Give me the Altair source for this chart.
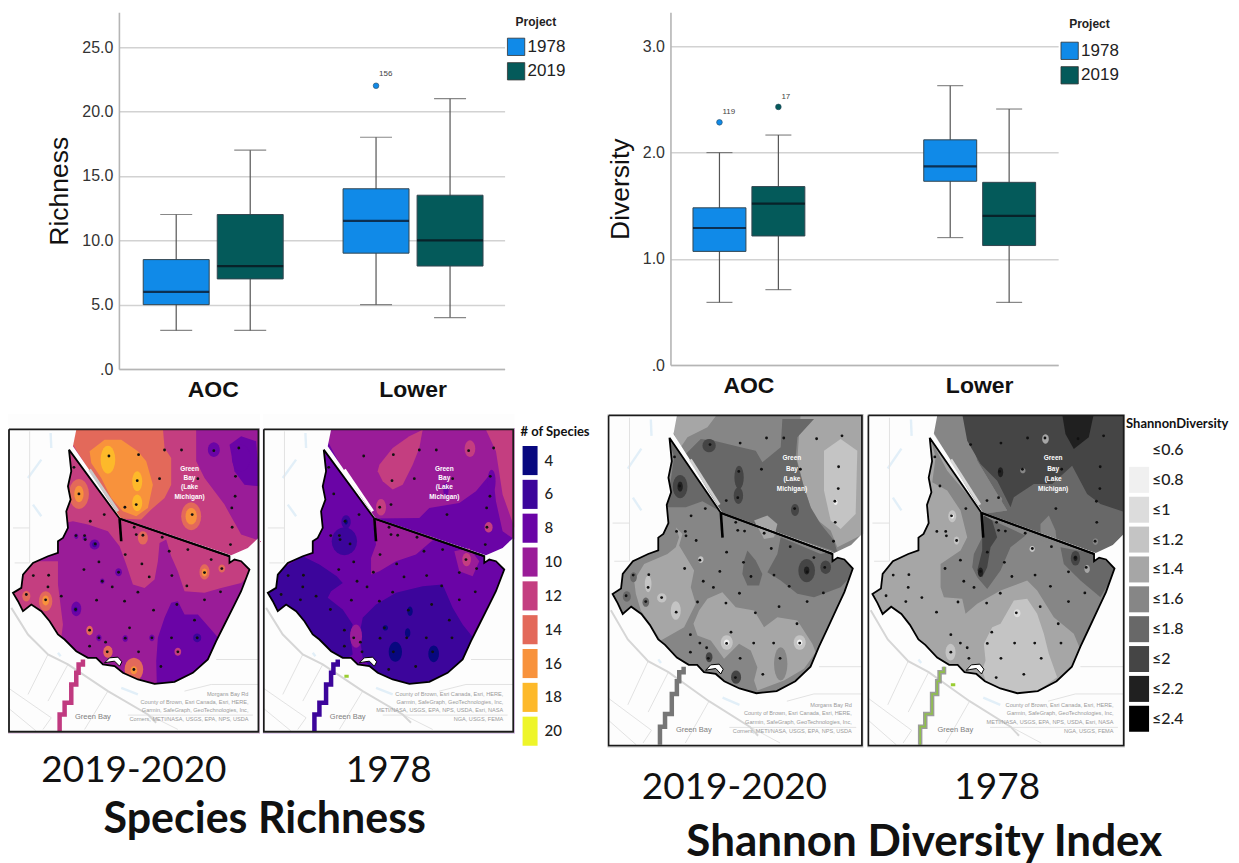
import math
import altair as alt
import pandas as pd

# ---------- box plot values ----------
groups = ["AOC", "Lower"]
years = ["1978", "2019"]
box_group = ["AOC", "AOC", "Lower", "Lower"]
box_year = ["1978", "2019", "1978", "2019"]
rich_low = [3, 3, 5, 4]
rich_q1 = [5, 7, 9, 8]
rich_med = [6, 8, 11.5, 10]
rich_q3 = [8.5, 12, 14, 13.5]
rich_high = [12, 17, 18, 21]
rich_out_group = ["Lower"]
rich_out_year = ["1978"]
rich_out_val = [22]
rich_out_id = ["156"]
div_low = [0.59, 0.71, 1.2, 0.59]
div_q1 = [1.07, 1.215, 1.73, 1.125]
div_med = [1.29, 1.52, 1.87, 1.405]
div_q3 = [1.48, 1.68, 2.12, 1.72]
div_high = [2.0, 2.165, 2.63, 2.41]
div_out_group = ["AOC", "AOC"]
div_out_year = ["1978", "2019"]
div_out_val = [2.285, 2.43]
div_out_id = ["119", "17"]
year_colors = ["#108ae8", "#045a5a"]

species_levels = ["4", "6", "8", "10", "12", "14", "16", "18", "20"]
species_colors = ["#08087f", "#3c059b", "#6a04a6", "#9a1c98", "#c43e80", "#e3695a", "#f8923c", "#fdb92a", "#eef52a"]
shannon_levels = ["≤0.6", "≤0.8", "≤1", "≤1.2", "≤1.4", "≤1.6", "≤1.8", "≤2", "≤2.2", "≤2.4"]
shannon_colors = ["#ffffff", "#f0f0f0", "#dcdcdc", "#c4c4c4", "#a6a6a6", "#868686", "#686868", "#454545", "#202020", "#000000"]

# ---------- shared map geometry ----------
land = [(183,65),(190,130),(180,175),(188,215),(175,250),(180,300),(165,330),(150,340),(150,375),(120,385),(75,405),
        (45,440),(40,480),(15,495),(30,520),(45,550),(70,530),(100,550),(125,580),(150,620),(170,635),(205,670),(240,690),
        (265,690),(285,710),(320,715),(345,735),(390,755),(440,768),(500,762),(555,735),(600,695),(625,640),(650,590),
        (680,530),(700,490),(725,425),(700,400),(680,395),(665,405),(665,385),(335,272)]
lake = [(205,5),(752,5),(752,330),(720,360),(670,382),(338,270),(300,215),(240,120),(195,55)]
lunate = [(290,705),(305,690),(330,688),(342,702),(335,715),(320,700),(300,703)]
aoc_line = [(335,272),(665,385)]
stub = [(335,272),(340,340)]
shore_line = [(245,125),(330,250)]
stream = [(225,695),(225,710),(212,710),(212,735),(205,735),(205,770),(190,770),(190,825),(170,825),(170,860),(155,860),(155,910)]
stream_end = [(245,745),(258,745)]
frame = [(3,4),(752,4),(752,912),(3,912),(3,4)]
roads_major = [[(10,540),(60,620),(120,680),(180,710),(300,790),(420,860),(445,885)]]
roads_minor = [[(0,780),(130,870)],[(0,840),(85,910)],[(60,800),(120,680)],[(360,862),(735,862)],[(300,790),(230,905)],
               [(530,790),(610,770),(752,770)],[(625,695),(752,695)],[(65,10),(65,405),(20,405)],[(15,300),(65,300)],
               [(130,870),(105,905)],[(420,860),(510,905)],[(180,710),(120,820)]]
water = [[(100,95),(60,150)],[(75,230),(100,265)],[(128,15),(130,60)],[(150,675),(158,685)],[(340,780),(390,800)]]
sites_x = [303,392,470,521,618,693,198,388,455,570,683,213,385,351,682,672,553,289,247,673,379,204,230,232,385,405,463,262,
           668,484,540,352,610,273,402,228,642,590,332,76,122,492,424,283,120,313,537,390,638,55,160,113,266,350,590,203,
           437,507,560,365,245,273,293,352,432,491,568,245,298,392,510,459,378]
sites_y = [84,80,66,66,68,60,118,158,152,152,145,198,230,238,205,240,260,260,280,298,298,323,323,335,320,322,328,348,
           350,370,365,380,395,402,408,425,422,434,433,443,442,443,447,460,477,477,474,493,492,500,505,516,517,520,516,545,
           547,530,577,600,607,630,643,631,630,630,630,655,672,672,672,716,725]
bay_lines = ["Green", "Bay", "(Lake", "Michigan)"]
city_name = "Green Bay"
credit_a = ["Morgans Bay Rd", "County of Brown, Esri Canada, Esri, HERE,", "Garmin, SafeGraph, GeoTechnologies, Inc,", "Corners, METI/NASA, USGS, EPA, NPS, USDA"]
credit_b = ["County of Brown, Esri Canada, Esri, HERE,", "Garmin, SafeGraph, GeoTechnologies, Inc,", "METI/NASA, USGS, EPA, NPS, USDA, Esri, NASA", "NGA, USGS, FEMA"]

# ---------- zones: (level, outline) in the order they are painted, and blobs (level, cx, cy, rx, ry) ----------
zones_rich_2019 = [
 ("12",[(185,55),(205,0),(565,0),(565,100),(590,150),(650,230),(700,320),(760,340),(700,400),(735,430),(700,465),(640,480),(590,495),(530,490),(510,430),(490,385),(475,335),(455,345),(450,400),(440,455),(410,480),(375,470),(355,410),(335,355),(300,310),(240,290),(195,280),(170,285),(170,60)]),
 ("12",[(10,490),(75,400),(150,400),(150,470),(165,590),(160,630),(120,590),(40,560)]),
 ("14",[(195,50),(205,0),(465,0),(470,60),(490,90),(490,170),(470,210),(430,245),(400,275),(335,272)]),
 ("16",[(245,70),(290,35),(340,35),(390,70),(415,100),(435,170),(420,240),(385,265),(345,250),(310,210),(280,150),(250,105)]),
 ("8",[(447,775),(445,700),(450,630),(470,570),(490,525),(510,520),(530,560),(570,560),(605,600),(640,640),(600,710),(550,755)]),
 ("8",[(665,50),(700,25),(745,40),(756,175),(710,170),(680,130)]),
]
blobs_rich_2019 = [("18",300,95,22,42),("18",388,160,15,30),("18",388,225,15,25),("14",550,265,30,42),("16",550,265,17,25),
 ("14",213,198,30,45),("16",213,198,14,25),("14",590,432,15,23),("16",590,434,8,12),("14",642,422,10,12),("14",405,330,15,20),
 ("14",55,505,12,16),("14",113,520,20,30),("16",113,518,10,15),("14",245,608,10,14),("14",300,672,14,18),("14",378,725,28,35),("16",378,727,10,12),
 ("12",510,672,10,12),("8",618,65,18,22),("8",260,350,15,15),("6",260,350,7,8),("8",205,543,15,22),("6",203,545,6,8),("8",332,433,10,12),("8",283,460,7,8),
 ("8",273,630,8,10),("8",352,632,8,10),("8",432,630,8,10),("8",205,325,6,8),("8",230,330,6,8),("6",568,630,12,13),("4",568,630,4,4),("8",700,90,28,40)]

zones_rich_1978 = [
 ("10",[(195,40),(205,0),(756,0),(756,335),(720,310),(700,220),(690,130),(640,190),(590,225),(500,240),(470,270),(335,272),(300,220),(240,125)]),
 ("12",[(350,110),(390,60),(440,25),(480,5),(470,60),(450,110),(420,170),(390,185),(360,160),(345,130)]),
 ("12",[(670,5),(756,5),(756,300),(720,200),(700,70)]),
 ("6",[(0,490),(45,430),(120,385),(170,410),(222,445),(240,465),(205,490),(195,510),(240,545),(270,590),(262,620),(270,680),(240,700),(160,640),(60,560)]),
 ("6",[(300,570),(340,530),(400,495),(480,475),(540,470),(570,540),(600,590),(640,640),(600,710),(550,755),(440,775),(345,745),(300,690),(290,620)]),
 ("10",[(330,272),(520,330),(500,345),(460,380),(400,400),(350,430),(325,440),(325,390),(340,350)]),
 ("10",[(575,370),(620,360),(650,400),(630,445),(590,430)]),
]
blobs_rich_1978 = [("12",622,62,16,25),("12",355,238,15,25),("12",612,395,13,20),("12",678,298,12,16),("8",687,160,12,35),("8",550,185,8,20),
 ("10",280,625,18,35),("6",245,340,38,42),("6",250,282,14,20),("4",250,282,5,8),("4",398,672,20,30),("4",513,678,16,25),("4",442,550,8,14),("4",435,615,8,14),("4",368,600,8,8)]

zones_div_2019 = [
 ("≤1.4",[(80,500),(110,450),(180,420),(205,400),(215,370),(205,340),(225,360),(215,395),(260,470),(250,520),(265,570),(230,640),(160,680),(135,640),(100,590),(85,540)]),
 ("≤1.4",[(258,630),(275,590),(300,555),(345,535),(385,580),(440,590),(470,640),(510,610),(570,620),(615,690),(625,715),(590,765),(530,800),(450,830),(440,800),(450,760),(430,710),(395,690),(350,735),(310,680),(270,665)]),
 ("≤1.4",[(190,40),(205,0),(330,0),(300,40),(240,70),(220,100)]),
 ("≤1.4",[(580,0),(768,0),(768,360),(720,385),(690,400),(670,350),(620,310),(590,220),(570,140),(575,60)]),
 ("≤1.2",[(650,110),(700,75),(750,110),(745,300),(700,345),(670,320),(650,230),(650,150)]),
 ("≤1.8",[(235,120),(280,75),(320,80),(400,100),(445,110),(465,145),(520,100),(525,15),(620,15),(570,70),(565,130),(590,220),(610,280),(640,330),(680,380),(690,415),(345,300),(300,230)]),
 ("≤1.8",[(180,60),(200,130),(178,280),(235,280),(285,262),(335,290),(300,230),(235,125)]),
 ("≤1.8",[(480,475),(510,420),(520,370),(640,420),(690,410),(750,465),(700,520),(620,550),(570,540),(520,500)]),
 ("≤1.8",[(410,440),(420,410),(445,440),(465,480),(455,515),(420,515),(405,480)]),
 ("≤1.4",[(440,320),(480,305),(510,330),(500,370),(470,375)]),
]
blobs_div_2019 = [("≤2",218,218,22,35),("≤2.2",218,218,8,15),("≤2",598,470,25,35),("≤2.2",598,470,8,12),("≤2",655,460,16,20),("≤2",395,190,14,35),("≤2",393,245,14,25),
 ("≤2",305,95,20,20),("≤2",563,288,12,18),("≤2",386,790,15,20),("≤2",305,730,10,15),("≤1.6",520,750,20,50),("≤1.2",358,686,18,22),("≤0.8",358,686,8,9),("≤1.2",577,686,18,22),("≤0.8",577,686,8,9),
 ("≤1.2",685,265,12,22),("≤0.8",685,265,6,8),("≤1.2",205,590,15,28),("≤1.2",163,552,14,14),("≤1.2",122,510,10,25),("≤1.2",280,437,8,10),("≤1.8",78,490,10,15),("≤1.8",58,548,12,16),("≤1.8",115,565,10,14)]

zones_div_1978 = [
 ("≤1.6",[(190,75),(205,130),(195,205),(240,230),(280,290),(300,370),(280,410),(220,450),(220,520),(230,550),(285,555),(295,600),(330,570),(400,530),(480,500),(510,530),(560,610),(620,660),(645,720),(690,620),(760,470),(690,430),(680,420),(350,300),(240,170)]),
 ("≤1.2",[(350,690),(375,640),(400,630),(440,560),(480,555),(510,600),(530,660),(545,720),(570,790),(500,840),(440,840),(355,800),(345,770),(355,740)]),
 ("≤1.6",[(190,40),(205,0),(290,0),(330,140),(420,290),(345,300)]),
 ("≤1.8",[(290,0),(774,0),(774,370),(690,425),(345,300),(420,290),(330,140)]),
 ("≤2",[(285,0),(774,0),(774,295),(700,270),(660,240),(615,155),(555,210),(500,210),(440,250),(430,280),(390,200),(340,150),(300,80)]),
 ("≤2.2",[(585,0),(680,0),(665,70),(620,105),(595,60)]),
 ("≤1.6",[(520,330),(545,305),(565,350),(570,390),(520,380)]),
 ("≤1.8",[(345,305),(400,330),(475,365),(430,400),(400,470),(360,525),(330,490),(315,460),(320,420),(345,370)]),
 ("≤2",[(350,305),(375,320),(390,370),(370,400),(360,460),(345,490),(330,470),(345,410),(345,370)]),
 ("≤1.8",[(580,400),(690,420),(750,465),(700,550),(640,500),(590,450)]),
]
blobs_div_1978 = [("≤1.2",250,715,15,25),("≤2",625,433,14,22),("≤2.2",625,433,6,8),("≤2.2",400,175,8,15),("≤2.2",340,475,8,14),("≤1.2",255,307,12,18),("≤0.8",255,307,5,7),
 ("≤1.2",268,380,8,12),("≤1.4",660,465,8,12),("≤1.4",535,75,10,14),("≤1.6",397,256,8,8),("≤1.6",467,170,8,8),("≤1.2",495,405,8,9),("≤1",450,598,10,12),("≤1.6",685,383,8,10)]


def ellipse(cx, cy, rx, ry):
    return [(cx + rx * math.cos(a * math.pi / 10), cy + ry * math.sin(a * math.pi / 10)) for a in range(20)]


def poly(rings, color="#ffffff"):
    cl = [[list(p) for p in r] + [list(r[0])] for r in rings]
    return {"type": "Feature", "properties": {"color": color}, "geometry": {"type": "Polygon", "coordinates": cl}}


def line(pts):
    return {"type": "Feature", "properties": {}, "geometry": {"type": "LineString", "coordinates": [list(p) for p in pts]}}


def area(r):
    return sum(r[i][0] * r[(i + 1) % len(r)][1] - r[(i + 1) % len(r)][0] * r[i][1] for i in range(len(r)))


def wound(r, positive):
    return r if (area(r) > 0) == positive else r[::-1]


def map_panel(zones, blobs, base, levels, colors, sx, sy, oy, stream_colors, credit, city_x, width, shore, end_mark=False):
    pal = dict(zip(levels, colors))
    s = lambda pts: [(x * sx, y * sy + oy) for x, y in pts]
    z = lambda pts: [(x, y + oy) for x, y in pts]
    proj = dict(type="identity", scale=1 / 3, translate=[0, 0])
    W, H = 756 * sx, 918 * sy + oy
    feats = [poly([[(0, oy), (W, oy), (W, H), (0, H)]], pal[base])]
    feats += [poly([z(pts)], pal[lv]) for lv, pts in zones]
    feats += [poly([z(ellipse(cx, cy, rx, ry))], pal[lv]) for lv, cx, cy, rx, ry in blobs]
    fills = alt.Chart(alt.Data(values=feats)).mark_geoshape(strokeWidth=0).encode(
        fill=alt.Fill("properties.color:N", scale=None)).project(**proj)
    mask = poly([wound([(0, 0), (W, 0), (W, H), (0, H)], True), wound(s(land), False), wound(s(lake), False)])
    mask_l = alt.Chart(alt.Data(values=[mask])).mark_geoshape(fill="#fdfdfd", strokeWidth=0).project(**proj)

    def stroke(lines, color, w):
        return alt.Chart(alt.Data(values=[line(s(l)) for l in lines])).mark_geoshape(
            filled=False, stroke=color, strokeWidth=w).project(**proj)

    layers = [fills, mask_l,
              stroke(water, "#e2eff8", 2.4),
              stroke(roads_minor, "#e2e2e2", 1),
              stroke(roads_major, "#d6d6d6", 2)]
    for col, wd in stream_colors:
        layers.append(stroke([stream], col, wd))
    if end_mark:
        layers.append(stroke([stream_end], "#9acd32", 3))
    layers += [stroke([shore_line], shore, 3),
               stroke([land + [land[0]]], "#000000", 1.8),
               stroke([aoc_line], "#000000", 2),
               stroke([stub], "#000000", 2.6),
               alt.Chart(alt.Data(values=[poly([s(lunate)])])).mark_geoshape(fill="#ffffff", stroke="#000000", strokeWidth=1).project(**proj)]
    dots = pd.DataFrame({"x": [a * sx for a in sites_x], "y": [b * sy + oy for b in sites_y]})
    layers.append(alt.Chart(dots).mark_circle(size=8, color="#111111", opacity=1).encode(
        longitude="x:Q", latitude="y:Q").project(**proj))
    bay = pd.DataFrame({"t": bay_lines, "x": [545 * sx] * 4, "y": [y * sy + oy for y in (122, 150, 178, 207)]})
    layers.append(alt.Chart(bay).mark_text(color="#ffffff", fontSize=6.5, fontWeight="bold", font="Liberation Sans").encode(
        longitude="x:Q", latitude="y:Q", text="t:N").project(**proj))
    cr = pd.DataFrame({"t": credit, "x": [722 * sx] * 4, "y": [y * sy + oy for y in (800, 823, 848, 873)]})
    layers.append(alt.Chart(cr).mark_text(color="#9a9a9a", fontSize=5.6, align="right", font="Liberation Sans").encode(
        longitude="x:Q", latitude="y:Q", text="t:N").project(**proj))
    ct = pd.DataFrame({"t": [city_name], "x": [city_x * sx], "y": [868 * sy + oy]})
    layers.append(alt.Chart(ct).mark_text(color="#808080", fontSize=7.5, font="Liberation Sans").encode(
        longitude="x:Q", latitude="y:Q", text="t:N").project(**proj))
    layers.append(stroke([frame], "#1a1a1a", 1.8))
    return alt.layer(*layers).properties(width=width, height=334)


def legend_panel(levels, colors, title, top, bottom, pad, x0, x1, xt, fsize, width, ty, tx):
    df = pd.DataFrame({"lv": levels, "col": colors})
    y = alt.Y("lv:N", scale=alt.Scale(domain=levels, range=[top, bottom], paddingInner=pad, paddingOuter=0), axis=None)
    rect = alt.Chart(df).mark_rect().encode(
        y=y, x=alt.value(x0), x2=alt.value(x1), fill=alt.Fill("col:N", scale=None))
    lab = alt.Chart(df).mark_text(align="left", fontSize=fsize, font="Lato", fontWeight=500, color="#222222").encode(
        y=y, x=alt.value(xt), text="lv:N")
    tt = alt.Chart(pd.DataFrame({"t": [title]})).mark_text(align="left", fontSize=13, font="Lato", fontWeight="bold", color="#111111").encode(
        x=alt.value(tx), y=alt.value(ty), text="t:N")
    return alt.layer(rect, lab, tt).properties(width=width, height=334)


def box_panel(low, q1, med, q3, high, og, oy, ov, oid, dom_max, ticks, title, width, height,
              p_in, p_out, band_align, off_in, bw, cap, leg_x, leg_y, txt_dx, txt_dy, proj_x, proj_y):
    df = pd.DataFrame({"group": box_group, "year": box_year, "low": low, "q1": q1, "med": med, "q3": q3, "high": high})
    out = pd.DataFrame({"group": og, "year": oy, "v": ov, "id": oid})
    xs = alt.X("group:N", sort=groups, scale=alt.Scale(domain=groups, paddingInner=p_in, paddingOuter=p_out, align=band_align),
               axis=alt.Axis(title=None, labelAngle=0, labelFontSize=23, labelFontWeight="bold", labelColor="#111111",
                             labelFont="Liberation Sans", labelPadding=9, ticks=False, domainColor="#b5b5b5", domainWidth=1.6, grid=False))
    xo = alt.XOffset("year:N", scale=alt.Scale(domain=years, paddingInner=off_in, paddingOuter=0))
    ysc = alt.Scale(domain=[0, dom_max], nice=False)
    yax = alt.Axis(title=title, values=ticks, ticks=False, grid=True, gridColor="#d2d2d2", gridWidth=1.5,
                   labelExpr="datum.value == 0 ? '.0' : format(datum.value, '.1f')", labelFontSize=16, labelColor="#333333",
                   labelFont="Liberation Sans", labelPadding=6, domainColor="#b5b5b5", domainWidth=1.6,
                   titleFontSize=26.5, titleFontWeight="normal", titleFont="Liberation Sans", titleColor="#111111", titlePadding=8)
    color = alt.Color("year:N", scale=alt.Scale(domain=years, range=year_colors),
                      legend=alt.Legend(title=None, orient="none", legendX=leg_x, legendY=leg_y, symbolType="square", symbolSize=300,
                                        symbolStrokeColor="#333333", symbolStrokeWidth=0.8, labelFontSize=17, labelColor="#222222",
                                        labelFont="Liberation Sans", rowPadding=3.5, labelOffset=2))
    base = alt.Chart(df)
    whisk = base.mark_rule(color="#555555", strokeWidth=1.2).encode(
        x=xs, xOffset=xo, y=alt.Y("low:Q", scale=ysc, axis=yax), y2="high:Q")
    caps_l = base.mark_tick(color="#555555", size=cap, thickness=1.2).encode(x=xs, xOffset=xo, y=alt.Y("low:Q", scale=ysc, axis=yax))
    caps_h = base.mark_tick(color="#555555", size=cap, thickness=1.2).encode(x=xs, xOffset=xo, y=alt.Y("high:Q", scale=ysc, axis=yax))
    boxes = base.mark_bar(width=bw, stroke="#33454f", strokeWidth=1).encode(
        x=xs, xOffset=xo, y=alt.Y("q1:Q", scale=ysc, axis=yax), y2="q3:Q", color=color)
    meds = base.mark_tick(color="#0a0a14", size=bw, thickness=2.2).encode(x=xs, xOffset=xo, y=alt.Y("med:Q", scale=ysc, axis=yax))
    pts = alt.Chart(out).mark_circle(size=32, opacity=1, stroke="#2a4a60", strokeWidth=0.6).encode(x=xs, xOffset=xo, y=alt.Y("v:Q", scale=ysc, axis=yax), color=color)
    lbl = alt.Chart(out).mark_text(align="left", fontSize=8, color="#444444", dx=txt_dx, dy=txt_dy, font="Liberation Sans").encode(
        x=xs, xOffset=xo, y=alt.Y("v:Q", scale=ysc, axis=yax), text="id:N")
    proj = alt.Chart(pd.DataFrame({"t": ["Project"]})).mark_text(align="left", fontSize=12, fontWeight="bold", font="Liberation Sans", color="#222222").encode(
        x=alt.value(proj_x), y=alt.value(proj_y), text="t:N")
    return alt.layer(whisk, caps_l, caps_h, boxes, meds, pts, lbl, proj).properties(width=width, height=height)


def spacer(w, h):
    return alt.Chart(pd.DataFrame({"a": [1]})).mark_point(opacity=0).encode(x=alt.value(w / 2), y=alt.value(h / 2)).properties(width=w, height=h)


def caption(text, x, y, size, weight="normal"):
    return alt.Chart(pd.DataFrame({"t": [text]})).mark_text(fontSize=size, fontWeight=weight, font="Lato", color="#111111").encode(
        x=alt.value(x), y=alt.value(y), text="t:N")


box1 = box_panel(rich_low, rich_q1, rich_med, rich_q3, rich_high, rich_out_group, rich_out_year, rich_out_val, rich_out_id,
                 27.7, [0, 5, 10, 15, 20, 25], "Richness", 386, 357, 0.3, 0.115, 0.53, 0.11, 66, 32, 388, 25, 3, -12, 397, 10)
box2 = box_panel(div_low, div_q1, div_med, div_q3, div_high, div_out_group, div_out_year, div_out_val, div_out_id,
                 3.32, [0, 1, 2, 3], "Diversity", 388, 353, 0.511, 0.0955, 0.5, 0.085, 53, 26, 390, 29, 3, -10, 399, 12)
row1 = alt.hconcat(spacer(111, 401), box1, spacer(166, 353), box2, spacing=0, bounds="flush").resolve_scale(
    color="independent", xOffset="independent").resolve_legend(color="independent")

map1 = map_panel(zones_rich_2019, blobs_rich_2019, "10", species_levels, species_colors, 1, 1, 42,
                 [("#c03a80", 4.5)], credit_a, 255, 255, "#c9c9c9")
map2 = map_panel(zones_rich_1978, blobs_rich_1978, "8", species_levels, species_colors, 1, 1, 42,
                 [("#3c059b", 4.5)], credit_b, 255, 252, "#ffffff", True)
leg1 = legend_panel(species_levels, species_colors, "# of Species", 32, 332, 0.14, 8, 23, 30, 15, 93, 18, 6)
map3 = map_panel(zones_div_2019, blobs_div_2019, "≤1.6", shannon_levels, shannon_colors, 768 / 756, 1002 / 918, 0,
                 [("#767676", 4.5)], credit_a, 255, 260, "#cfcfcf")
map4 = map_panel(zones_div_1978, blobs_div_1978, "≤1.4", shannon_levels, shannon_colors, 774 / 756, 1002 / 918, 0,
                 [("#9c9c9c", 4.5), ("#8fc04a", 1.6)], credit_b, 258, 258, "#d8d8d8", True)
leg2 = legend_panel(shannon_levels, shannon_colors, "ShannonDiversity", 23, 318, 0.13, 4, 24, 27, 16, 106, 10, 1)
row2 = alt.hconcat(map1, map2, leg1, map3, map4, leg2, spacing=0, bounds="flush")

row3 = alt.layer(
    caption("2019-2020", 126, 22, 37),
    caption("1978", 381, 22, 37),
    caption("Species Richness", 257, 71, 43, "bold"),
    caption("2019-2020", 727, 39, 37),
    caption("1978", 990, 39, 37),
    caption("Shannon Diversity Index", 917, 94, 44, "bold"),
).properties(width=1223, height=100)

chart = alt.vconcat(row1, row2, row3, spacing=1).properties(
    padding={"left": 0, "top": 4, "right": 0, "bottom": 0}, background="#ffffff"
).configure_view(strokeWidth=0)

chart.save("out.html", embed_options={"renderer": "svg", "actions": False})
